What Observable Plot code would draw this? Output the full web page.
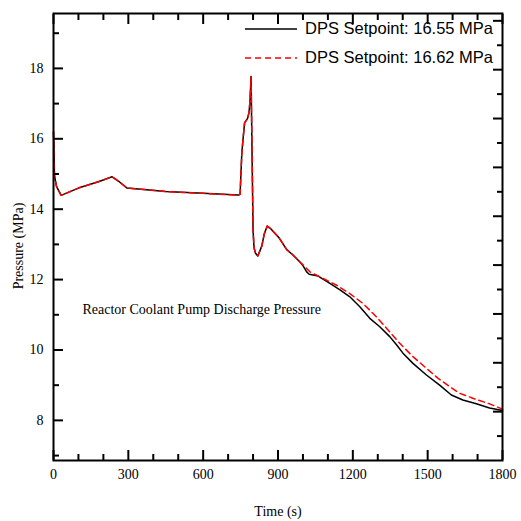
<!DOCTYPE html>
<html>
<head>
<meta charset="utf-8">
<script src="https://cdn.jsdelivr.net/npm/d3@7"></script>
<script src="https://cdn.jsdelivr.net/npm/@observablehq/plot@0.6"></script>
<style>
  html, body { margin: 0; padding: 0; background: white; }
  #wrap { position: relative; width: 521px; height: 521px; }
  #legend { position: absolute; left: 245px; top: 14px; font-family: "Liberation Sans", Arial, sans-serif; font-size: 16.5px; color: black; }
  .row { display: flex; align-items: center; height: 29px; white-space: nowrap; }
  .row svg { margin-right: 8px; }
  #ylabel { position: absolute; left: 19px; top: 246px; transform: translate(-50%, -50%) rotate(-90deg); font-family: "Liberation Serif", "Times New Roman", serif; font-size: 14px; white-space: nowrap; color: black; }
</style>
</head>
<body>
<div id="wrap"><div id="legend"></div><div id="ylabel"></div></div>
<script>
// Shared portion (both setpoints overlap up to ~990 s)
const sharedTime = [0, 4, 12, 30, 40, 100, 180, 235, 260, 295, 350, 450, 600, 741, 748, 755, 760, 766, 778, 784, 788, 792, 796, 800, 804, 810, 819, 835, 845, 857, 870, 905, 935, 960, 988];
const sharedPressure = [16.2, 14.95, 14.65, 14.4, 14.42, 14.6, 14.78, 14.92, 14.8, 14.6, 14.57, 14.5, 14.45, 14.4, 14.42, 15.6, 16.0, 16.45, 16.58, 16.75, 17.1, 17.77, 15.6, 13.4, 12.9, 12.75, 12.67, 12.95, 13.3, 13.52, 13.45, 13.18, 12.85, 12.7, 12.5];

// DPS Setpoint 16.55 MPa (black solid) after divergence
const blackTime = [1000, 1015, 1025, 1061, 1108, 1150, 1188, 1228, 1268, 1308, 1348, 1375, 1401, 1441, 1495, 1548, 1595, 1641, 1695, 1748, 1800];
const blackPressure = [12.4, 12.22, 12.15, 12.1, 11.89, 11.7, 11.51, 11.23, 10.9, 10.66, 10.38, 10.15, 9.91, 9.62, 9.29, 9.0, 8.72, 8.58, 8.47, 8.35, 8.28];

// DPS Setpoint 16.62 MPa (red dashed) after divergence
const redTime = [1000, 1028, 1081, 1135, 1188, 1241, 1295, 1335, 1388, 1441, 1495, 1541, 1588, 1628, 1681, 1748, 1800];
const redPressure = [12.42, 12.22, 12.03, 11.84, 11.6, 11.32, 10.94, 10.62, 10.19, 9.81, 9.48, 9.2, 8.96, 8.77, 8.63, 8.47, 8.32];

const seriesNames = ["DPS Setpoint: 16.55 MPa", "DPS Setpoint: 16.62 MPa"];
const xTicksMajor = [0, 300, 600, 900, 1200, 1500, 1800];
const xTicksMinor = [100, 200, 400, 500, 700, 800, 1000, 1100, 1300, 1400, 1600, 1700];
const yTicksMajor = [8, 10, 12, 14, 16, 18];
const yTicksMinor = [7, 9, 11, 13, 15, 17, 19];
const xLabel = "Time (s)";
const yLabel = "Pressure (MPa)";
const annotation = "Reactor Coolant Pump Discharge Pressure";

const yDomain = [6.86, 19.56];
// right-hand axis of the original has its own (unlabelled) tick spacing
const rightSteps = 18.3;
const rightTicks = d3.range(1, 19).map(k => yDomain[0] + k * (yDomain[1] - yDomain[0]) / rightSteps);
const rightMajor = rightTicks.filter((d, i) => (i + 1) % 2 === 0);
const rightMinor = rightTicks.filter((d, i) => (i + 1) % 2 === 1);

const toRows = (ts, ps) => ts.map((t, i) => ({t, p: ps[i]}));
const blackData = toRows(sharedTime, sharedPressure).concat(toRows(blackTime, blackPressure));
const redData = toRows(sharedTime, sharedPressure).concat(toRows(redTime, redPressure));
const plain = d => String(d);

const chart = Plot.plot({
  width: 521,
  height: 521,
  marginLeft: 53,
  marginRight: 19,
  marginTop: 13,
  marginBottom: 61,
  x: {domain: [0, 1800]},
  y: {domain: yDomain},
  style: {fontFamily: "'Liberation Serif', 'Times New Roman', serif", fontSize: "14px", color: "black", background: "white"},
  marks: [
    Plot.line(blackData, {x: "t", y: "p", stroke: "black", strokeWidth: 1.5}),
    Plot.line(redData, {x: "t", y: "p", stroke: "#ff0000", strokeWidth: 1.5, strokeDasharray: "6,4"}),
    Plot.frame({stroke: "black", strokeWidth: 2}),
    // bottom axis
    Plot.axisX(xTicksMajor, {anchor: "bottom", tickSize: 0, tickPadding: 9, fontSize: 14, label: null, tickFormat: plain}),
    Plot.axisX(xTicksMajor, {anchor: "bottom", tickSize: -10, text: null, strokeWidth: 2, label: null}),
    Plot.axisX(xTicksMinor, {anchor: "bottom", tickSize: -6, text: null, strokeWidth: 2, label: null}),
    // top axis
    Plot.axisX(xTicksMajor, {anchor: "top", tickSize: -10, text: null, strokeWidth: 2, label: null}),
    Plot.axisX(xTicksMinor, {anchor: "top", tickSize: -6, text: null, strokeWidth: 2, label: null}),
    // left axis
    Plot.axisY(yTicksMajor, {anchor: "left", tickSize: 0, tickPadding: 10, fontSize: 14, label: null, tickFormat: plain}),
    Plot.axisY(yTicksMajor, {anchor: "left", tickSize: -10, text: null, strokeWidth: 2, label: null}),
    Plot.axisY(yTicksMinor, {anchor: "left", tickSize: -6, text: null, strokeWidth: 2, label: null}),
    // right axis
    Plot.axisY(rightMajor, {anchor: "right", tickSize: -10, text: null, strokeWidth: 2, label: null}),
    Plot.axisY(rightMinor, {anchor: "right", tickSize: -6, text: null, strokeWidth: 2, label: null}),
    // x title and annotation
    Plot.text([xLabel], {frameAnchor: "bottom", dy: 51, fontSize: 14, lineAnchor: "middle"}),
    Plot.text([annotation], {frameAnchor: "top-left", dx: 29, dy: 296, textAnchor: "start", lineAnchor: "middle", fontSize: 14})
  ]
});

const wrap = document.getElementById("wrap");
wrap.insertBefore(chart, wrap.firstChild);
document.getElementById("ylabel").textContent = yLabel;

const legend = document.getElementById("legend");
const styles = [{stroke: "black", dash: ""}, {stroke: "#ff0000", dash: "6,4"}];
seriesNames.forEach((name, i) => {
  const row = document.createElement("div");
  row.className = "row";
  row.innerHTML = `<svg width="52" height="4"><line x1="0" x2="52" y1="2" y2="2" stroke="${styles[i].stroke}" stroke-width="1.6" ${styles[i].dash ? `stroke-dasharray="${styles[i].dash}"` : ""}/></svg><span>${name}</span>`;
  legend.appendChild(row);
});
</script>
</body>
</html>
